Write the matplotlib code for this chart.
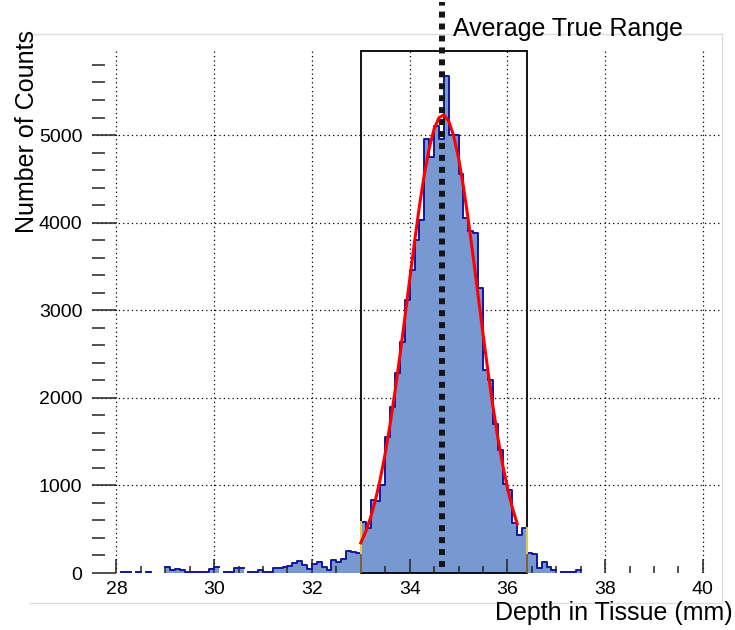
import numpy as np
import matplotlib
matplotlib.use('Agg')
import matplotlib.pyplot as plt
from matplotlib.ticker import MultipleLocator, FixedLocator
from matplotlib.patches import Rectangle
from matplotlib.lines import Line2D

plt.rcParams['font.family'] = ['Liberation Sans', 'DejaVu Sans']

# histogram: 0.1 mm bins starting at 28.0 mm
bin_start = 28.0
bin_width = 0.1
# 28.0 - 32.9 mm
counts_left = [0, 15, 15, 0, 15, 0, 15, 0, 0, 0,
               65, 34, 50, 34, 15, 15, 15, 15, 15, 42,
               65, 0, 15, 15, 60, 60, 0, 15, 15, 34,
               15, 15, 57, 57, 65, 80, 110, 141, 91, 42,
               103, 129, 65, 34, 148, 129, 156, 255, 243, 232]
# 33.0 - 36.3 mm (inside the box)
counts_core = [580, 515, 830, 820, 1000, 1550, 1890, 2280, 2640, 3120,
               3460, 3800, 4030, 4960, 4750, 5100, 4950, 5670, 5000, 5000,
               4560, 4050, 3900, 3880, 3250, 2320, 2200, 1700, 1400, 1020,
               950, 570, 430, 510]
# 36.4 - 37.4 mm
counts_right = [232, 213, 53, 122, 72, 30, 0, 15, 11, 15, 30]

# gaussian fit drawn in red, sampled every 0.1 mm from 33.0 mm
fit_start = 33.0
fit_y = [344, 471, 632, 833, 1077, 1365, 1698, 2072, 2478, 2908,
         3348, 3781, 4188, 4550, 4849, 5069, 5198, 5230, 5158, 4992,
         4738, 4412, 4029, 3609, 3172, 2734, 2312, 1917, 1560, 1245,
         974, 748, 563]

avg_range = 34.67
box_lo, box_hi = 33.0, 36.4

counts = np.array(counts_left + counts_core + counts_right, dtype=float)
edges = bin_start + bin_width * np.arange(len(counts) + 1)
fit_x = fit_start + 0.1 * np.arange(len(fit_y))

fig = plt.figure(figsize=(7.35, 6.3), dpi=100)
ax = fig.add_axes([92 / 735, 57 / 630, (720 - 92) / 735, (578.6 - 57) / 630])
ymax = 5955
ax.set_xlim(27.5, 40.35)
ax.set_ylim(0, ymax)
ax.set_facecolor('none')
for s in ax.spines.values():
    s.set_visible(False)

# dotted grid
for gx in range(28, 41, 2):
    ax.axvline(gx, color='black', lw=0.9, ls=(0, (1, 2.5)), zorder=0)
for gy in range(1000, 6000, 1000):
    ax.axhline(gy, color='black', lw=0.9, ls=(0, (1, 2.5)), zorder=0)

# histogram fill + outline (empty bins not drawn)
ax.stairs(counts, edges, fill=True, color='#7898d2', lw=0, zorder=1)
xs = np.repeat(edges, 2)[1:-1]
ys = np.repeat(counts, 2)
ys[ys == 0] = np.nan
ax.plot(xs, ys, color='#1515a0', lw=1.4, zorder=2)

# selection box
ax.add_patch(Rectangle((box_lo, 0), box_hi - box_lo, ymax, fill=False,
                       ec='black', lw=1.3, zorder=3, clip_on=False))
for bx in (box_lo, box_hi):
    i = int(round((bx - bin_start) / bin_width))
    lo, hi = sorted((counts[i - 1], counts[i]))
    ax.plot([bx, bx], [0, lo], color='#8a6a3a', lw=1.3, zorder=3.5)
    ax.plot([bx, bx], [lo, hi], color='#f2e64a', lw=1.3, zorder=3.5)

# average true range marker
ax.plot([avg_range, avg_range], [0.011, 1.095], color='#151515', lw=4.3,
        dashes=(1, 1), solid_capstyle='butt', dash_capstyle='butt',
        transform=ax.get_xaxis_transform(), clip_on=False, zorder=4)

# fit
ax.plot(fit_x, fit_y, color='#ff0000', lw=2.2, zorder=5)

# ticks
ax.xaxis.set_major_locator(MultipleLocator(2))
ax.xaxis.set_minor_locator(FixedLocator(np.arange(28, 40.01, 0.5)))
ax.yaxis.set_major_locator(MultipleLocator(1000))
ax.yaxis.set_minor_locator(MultipleLocator(200))
ax.tick_params(axis='y', which='major', direction='in', length=17, width=1.1,
               pad=7, labelsize=14, color='#222222')
ax.tick_params(axis='y', which='minor', direction='in', length=9.5, width=1.1,
               color='#222222')
ax.tick_params(axis='x', which='major', direction='in', length=10, width=1.1,
               pad=6, labelsize=14, color='#222222')
ax.tick_params(axis='x', which='minor', direction='in', length=5, width=1.1,
               color='#222222')
ax.yaxis.get_major_ticks()[0].tick1line.set_visible(False)

# labels
fig.text(453 / 735, 1 - 36 / 630, 'Average True Range', fontsize=18,
         ha='left', va='baseline')
fig.text(27 / 735, 1 - 30 / 630, 'Number of Counts', fontsize=18,
         rotation=90, ha='center', va='top')
fig.text(733 / 735, 1 - 620 / 630, 'Depth in Tissue (mm)', fontsize=18,
         ha='right', va='baseline')

# light pad border
gc = '#dddddd'
fig.add_artist(Line2D([30 / 735, 722 / 735], [1 - 34 / 630, 1 - 34 / 630], color=gc, lw=1))
fig.add_artist(Line2D([30 / 735, 722 / 735], [1 - 603 / 630, 1 - 603 / 630], color=gc, lw=1))
fig.add_artist(Line2D([722 / 735, 722 / 735], [1 - 34 / 630, 1 - 603 / 630], color=gc, lw=1))

fig.savefig('out.png', dpi=100)
